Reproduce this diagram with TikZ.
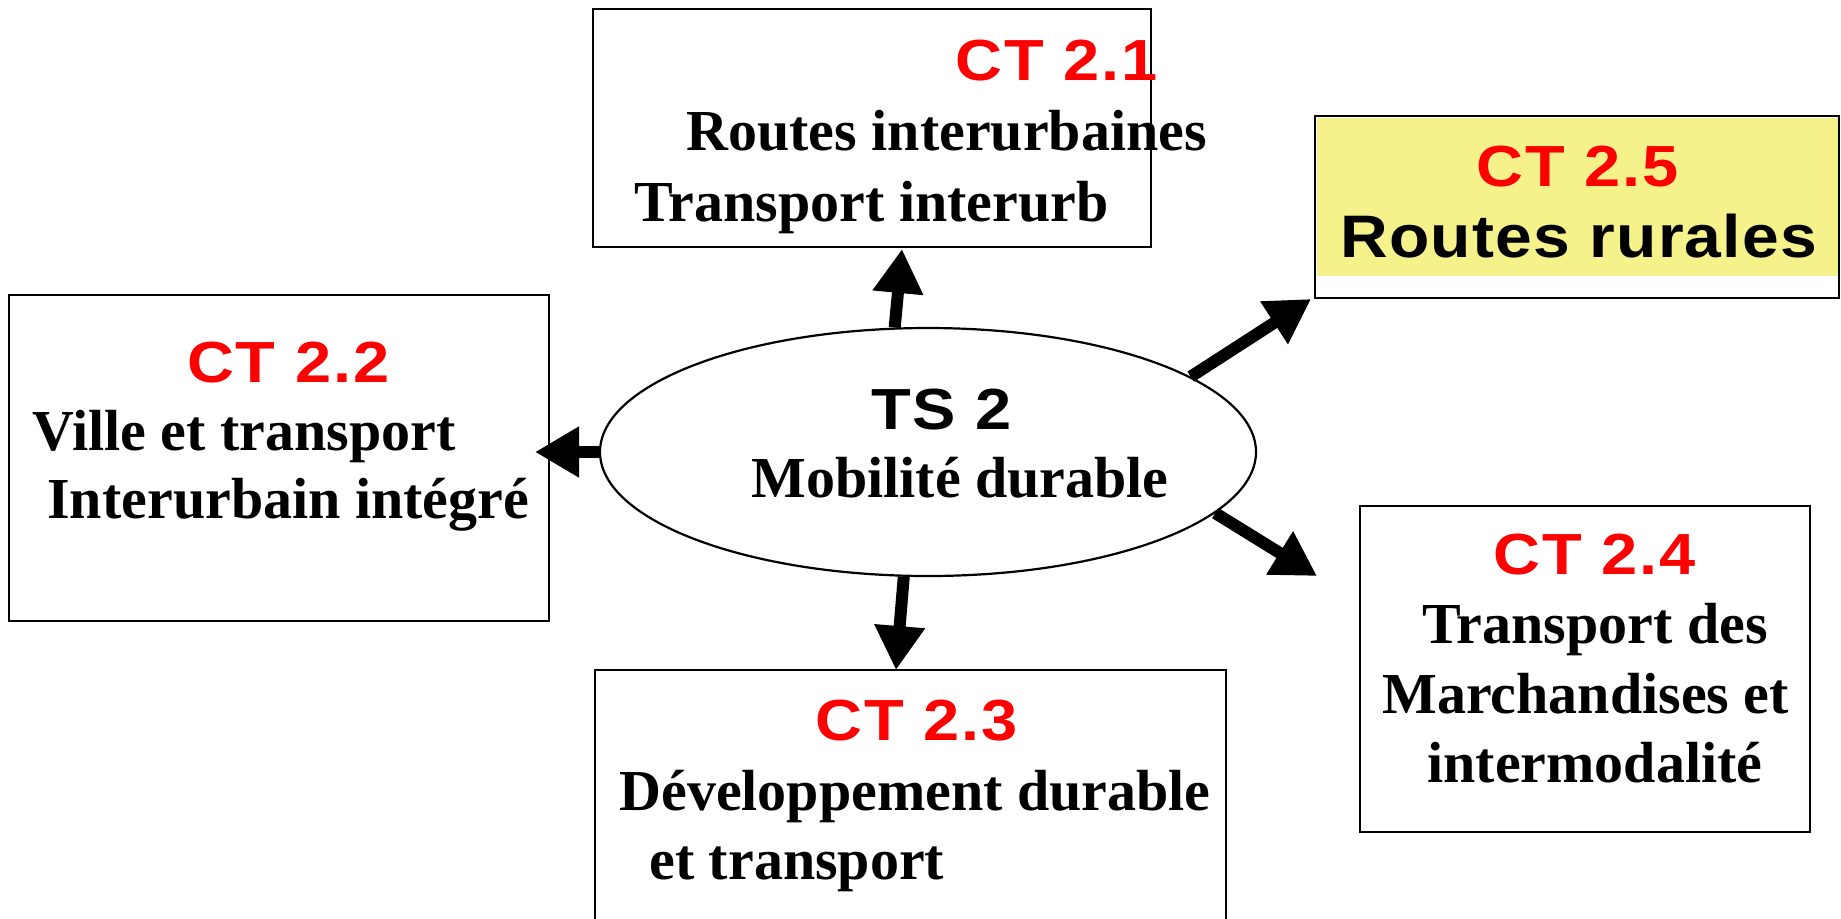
\documentclass[tikz,border=0pt]{standalone}
\usepackage{fontspec}
\setmainfont{Liberation Serif}
\newfontfamily\lsans[LetterSpace=3,FakeStretch=1.12]{Liberation Sans}
\newfontfamily\rsans[LetterSpace=2,FakeStretch=1.1]{Liberation Sans}
\usetikzlibrary{arrows.meta,calc,shapes.geometric}
\definecolor{ctred}{RGB}{255,0,0}
\definecolor{ctyellow}{RGB}{245,242,140}
\begin{document}
\begin{tikzpicture}[x=0.5pt,y=-0.5pt,
  box/.style={draw, line width=1pt, rectangle, inner sep=0pt},
  ser/.style={font=\fontsize{29}{34}\selectfont\bfseries, inner sep=0pt, anchor=base west},
  ctl/.style={font=\fontsize{29}{34}\selectfont\lsans\bfseries, text=ctred, inner sep=0pt, anchor=base west},
  fat/.style={line width=6pt, -{Triangle[length=22pt,width=24pt]}}]
\useasboundingbox (0,0) rectangle (1841,918);
\fill[white] (0,0) rectangle (1841,918);
% boxes
\fill[ctyellow] (1317,118) rectangle (1838,276);
\node[box, minimum width=279pt, minimum height=119pt] (ct21) at (872,128) {};
\node[box, minimum width=270pt, minimum height=163pt] (ct22) at (279,458) {};
\node[box, minimum width=315.5pt, minimum height=155pt] (ct23) at (910.5,825) {};
\node[box, minimum width=225pt, minimum height=163pt] (ct24) at (1585,669) {};
\node[box, minimum width=262pt, minimum height=91pt] (ct25) at (1577,207) {};
\node[draw, ellipse, line width=1.1pt, inner sep=0pt, minimum width=328pt, minimum height=124pt] (ts) at (928,452) {};
% texts
\node[ctl] (l21) at (955,80) {CT 2.1};
\node[ser] (a21) at (686,150) {Routes interurbaines};
\node[ser] (b21) at (634,221) {Transport interurb};
\node[ctl] (l22) at (187,382) {CT 2.2};
\node[ser] (a22) at (32,450) {Ville et transport};
\node[ser] (b22) at (47,518) {Interurbain intégré};
\node[ctl, text=black] (lts) at (871,429) {TS 2};
\node[ser] (ats) at (751,497) {Mobilité durable};
\node[ctl] (l25) at (1476,186) {CT 2.5};
\node[ctl, text=black, font=\fontsize{30}{35}\selectfont\rsans\bfseries] (a25) at (1340,257) {Routes rurales};
\node[ctl] (l24) at (1493,574) {CT 2.4};
\node[ser] (a24) at (1422,643) {Transport des};
\node[ser] (b24) at (1382,713) {Marchandises et};
\node[ser] (c24) at (1427,782) {intermodalité};
\node[ctl] (l23) at (815,740) {CT 2.3};
\node[ser] (a23) at (619,810) {Développement durable};
\node[ser] (b23) at (649,879) {et transport};
% arrows
\coordinate (tipUp) at (902,249);
\coordinate (tipLeft) at (535,452);
\coordinate (tipDown) at (896,670);
\coordinate (tipNE) at (1311,299);
\coordinate (tipSE) at (1317,576);
\draw[fat] (ts.105) -- (tipUp);
\draw[fat] (ts.180) -- (tipLeft);
\draw[fat] (ts.-101) -- (tipDown);
\draw[fat] (ts.16.5) -- (tipNE);
\draw[fat] (ts.-12.9) -- (tipSE);
\end{tikzpicture}
\end{document}
